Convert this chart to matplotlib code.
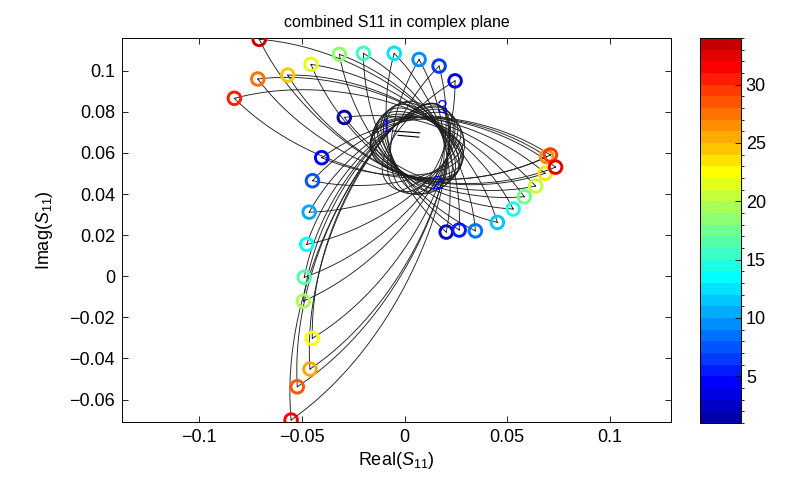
import numpy as np
import matplotlib
matplotlib.use("Agg")
import matplotlib.pyplot as plt
from matplotlib.colors import ListedColormap, BoundaryNorm
from matplotlib.cm import ScalarMappable

plt.rcParams["font.family"] = ["Liberation Sans", "DejaVu Sans"]
plt.rcParams["mathtext.fontset"] = "custom"
plt.rcParams["mathtext.rm"] = "Liberation Sans"
plt.rcParams["mathtext.it"] = "Liberation Sans:italic"

# ── marker data: three arms (value k goes to arm k mod 3) ─────────────────────
left_val = [1, 4, 7, 10, 13, 16, 19, 22, 25, 28, 31]
left_x = [-0.0293, -0.0403, -0.0448, -0.0464, -0.0476, -0.0488,
          -0.0492, -0.0449, -0.0460, -0.0522, -0.0552]
left_y = [0.0773, 0.0577, 0.0465, 0.0312, 0.0155, -0.0005,
          -0.0121, -0.0302, -0.0452, -0.0538, -0.0700]

right_val = [2, 5, 8, 11, 14, 17, 20, 23, 26, 29, 32]
right_x = [0.0203, 0.0266, 0.0345, 0.0452, 0.0529, 0.0583,
           0.0638, 0.0684, 0.0692, 0.0710, 0.0735]
right_y = [0.0215, 0.0225, 0.0221, 0.0262, 0.0327, 0.0387,
           0.0439, 0.0501, 0.0582, 0.0590, 0.0531]

top_val = [3, 6, 9, 12, 15, 18, 21, 24, 27, 30, 33]
top_x = [0.0246, 0.0168, 0.0071, -0.0050, -0.0200, -0.0317,
         -0.0455, -0.0568, -0.0714, -0.0828, -0.0707]
top_y = [0.0951, 0.1023, 0.1055, 0.1085, 0.1085, 0.1080,
         0.1031, 0.0979, 0.0960, 0.0866, 0.1153]

# port labels
port_txt = ["1", "2", "3"]
port_x = [-0.0090, 0.0158, 0.0183]
port_y = [0.0725, 0.0447, 0.0815]

# small segments near the centre
seg_x = [[-0.0056, 0.0074], [-0.0032, 0.0070]]
seg_y = [[0.0707, 0.0698], [0.0686, 0.0677]]

# empty region every loop wraps around
void_c = (0.0063, 0.0628)
reach = 0.023      # how far a loop closes beyond the centre
cap = 0.019        # half width of the rounded far end
tip = np.radians(30)


def matlab_jet(m):
    # same ramp construction as MATLAB's jet(m)
    n = int(np.ceil(m / 4))
    u = np.concatenate([np.arange(1, n + 1) / n, np.ones(n - 1), np.arange(n, 0, -1) / n])
    g = int(np.ceil(n / 2)) - (1 if m % 4 == 1 else 0) + np.arange(1, len(u) + 1)
    out = np.zeros((m, 3))
    for ch, idx in ((0, g + n), (1, g), (2, g - n)):
        ok = (idx >= 1) & (idx <= m)
        out[idx[ok] - 1, ch] = u[ok]
    return out


def bez(p0, p1, p2, p3, t):
    t = t[:, None]
    return ((1 - t) ** 3 * p0 + 3 * (1 - t) ** 2 * t * p1
            + 3 * (1 - t) * t ** 2 * p2 + t ** 3 * p3)


def loop_xy(mx, my, n=90):
    # loop leaving the marker, wrapping the empty centre and coming back
    m = np.array([mx, my])
    d = np.array(void_c) - m
    D = np.hypot(*d)
    e = d / D
    nn = np.array([-e[1], e[0]])
    L = D + reach
    k1 = 0.48 * L
    f = m + L * e
    t = np.linspace(0, 1, n)
    up = bez(m, m + k1 * (np.cos(tip) * e + np.sin(tip) * nn), f + cap * nn, f, t)
    dn = bez(f, f - cap * nn, m + k1 * (np.cos(tip) * e - np.sin(tip) * nn), m, t)
    p = np.vstack([up, dn[1:]])
    return p[:, 0], p[:, 1]


xs = np.array(left_x + right_x + top_x)
ys = np.array(left_y + right_y + top_y)
vals = np.array(left_val + right_val + top_val)

cmap = ListedColormap(matlab_jet(33))
norm = BoundaryNorm(np.linspace(1, 34, 34), 33)

fig = plt.figure(figsize=(7.85, 4.82), dpi=100)
ax = fig.add_axes([0.1554, 0.1251, 0.6994, 0.7954])

for mx, my in zip(xs, ys):
    lx, ly = loop_xy(mx, my)
    ax.plot(lx, ly, color="0.12", lw=0.65, zorder=2)

for sx, sy in zip(seg_x, seg_y):
    ax.plot(sx, sy, color="k", lw=0.8, zorder=2)

ax.scatter(xs, ys, s=82, facecolors="none", edgecolors=cmap(norm(vals)),
           linewidths=2.1, zorder=4)

for t, px, py in zip(port_txt, port_x, port_y):
    ax.text(px, py, t, color="#0000ee", fontsize=14, ha="center", va="center",
            zorder=5)

ax.set_xlim(-0.1375, 0.1297)
ax.set_ylim(-0.0708, 0.1158)
xt = [-0.1, -0.05, 0, 0.05, 0.1]
yt = [-0.06, -0.04, -0.02, 0, 0.02, 0.04, 0.06, 0.08, 0.1]
ax.set_xticks(xt)
ax.set_xticklabels(["\u22120.1", "\u22120.05", "0", "0.05", "0.1"])
ax.set_yticks(yt)
ax.set_yticklabels([("\u2212" + f"{abs(v):g}") if v < 0 else f"{v:g}" for v in yt])
ax.tick_params(direction="in", top=True, right=True, labelsize=13, length=4,
               width=0.6, pad=5)
for sp in ax.spines.values():
    sp.set_linewidth(0.7)

ax.set_title("combined S11 in complex plane", fontsize=11.5, pad=8)
ax.set_xlabel(r"Real($S_{11}$)", fontsize=13, labelpad=3)
ax.set_ylabel(r"Imag($S_{11}$)", fontsize=13, labelpad=10)

cax = fig.add_axes([0.8917, 0.1224, 0.0522, 0.7988])
sm = ScalarMappable(norm=norm, cmap=cmap)
cb = fig.colorbar(sm, cax=cax, ticks=[5, 10, 15, 20, 25, 30])
cb.outline.set_linewidth(0.7)
cax.tick_params(direction="in", left=False, right=True, labelsize=13, length=4,
                width=0.6)
cb.set_ticklabels(["5", "10", "15", "20", "25", "30"])

fig.savefig("out.png", dpi=100)
